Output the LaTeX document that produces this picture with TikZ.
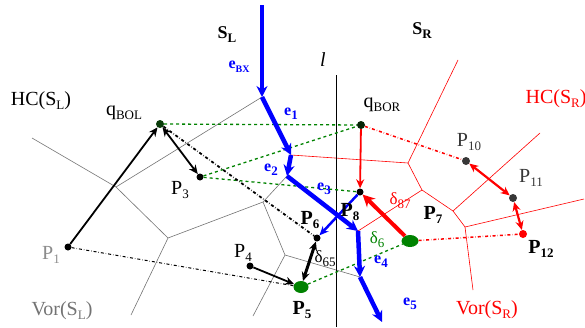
\documentclass[tikz,border=0pt]{standalone}
\usepackage{fontspec}
\setmainfont{Liberation Serif}
\usetikzlibrary{arrows.meta,shapes.geometric}
\definecolor{vgreen}{RGB}{0,130,0}
\definecolor{dgreen}{RGB}{10,60,10}
\definecolor{dgray}{RGB}{55,55,55}
\newcommand\lo[1]{\raisebox{-4pt}{\fontsize{13}{13}\selectfont #1}}

\begin{document}
\begin{tikzpicture}[x=1pt,y=-1pt,
  every node/.style={inner sep=0pt,font=\fontsize{20}{22}\selectfont},
  dot/.style={circle,fill=black,inner sep=0pt,minimum size=7pt},
  gdot/.style={ellipse,fill=vgreen,inner sep=0pt,minimum width=15pt,minimum height=12pt},
  vorL/.style={black!55,line width=0.6pt},
  vorR/.style={red,line width=0.6pt},
  chain/.style={blue,line width=4.5pt,-{Stealth[length=11pt,width=11pt]}},
  link/.style={vgreen,dashed,line width=1.3pt},
  rlink/.style={red,dash dot,line width=1.5pt},
  arr/.style={-{Stealth[length=9pt,width=8pt]},line width=1.8pt},
  darr/.style={{Stealth[length=9pt,width=8pt]}-{Stealth[length=9pt,width=8pt]},line width=1.8pt}]
  \useasboundingbox (0,0) rectangle (585,327);

  % merge chain
  \coordinate (c0) at (262,5);
  \coordinate (c1) at (262,97);
  \coordinate (c2) at (291,155);
  \coordinate (c3) at (287,176);
  \coordinate (c4) at (358,231);
  \coordinate (c5) at (360,277);
  \coordinate (c6) at (382,322);

  % Vor(S_L) vertices
  \coordinate (g1) at (32,138);
  \coordinate (g2) at (116,187);
  \coordinate (g3) at (168,238);
  \coordinate (g4) at (131,315);
  \coordinate (g5) at (263,202);
  \coordinate (g6) at (285,255);
  \coordinate (g7) at (253,316);

  % Vor(S_R) vertices
  \coordinate (r1) at (408,163);
  \coordinate (r2) at (422,190);
  \coordinate (r3) at (453,211);
  \coordinate (r4) at (465,227);
  \coordinate (r5) at (458,60);
  \coordinate (r6) at (540,133);
  \coordinate (r7) at (584,199);
  \coordinate (r8) at (473,290);

  \coordinate (ltop) at (336,75);
  \coordinate (lbot) at (336,327);

  % sites
  \node[dot,fill=dgreen,minimum size=8pt] (qL) at (160,124) {};
  \node[dot,fill=dgreen!60!black,minimum size=8pt] (qR) at (361,125) {};
  \node[dot] (P1) at (68,247) {};
  \node[dot] (P3) at (200,177) {};
  \node[dot] (P4) at (250,266) {};
  \node[gdot] (P5) at (301,287) {};
  \node[dot] (P6) at (317,238) {};
  \node[gdot,minimum width=17pt] (P7) at (410,241) {};
  \node[dot] (P8) at (360,192) {};
  \node[dot,fill=dgray,minimum size=8pt] (P10) at (466,161) {};
  \node[dot,fill=dgray,minimum size=8pt] (P11) at (513,198) {};
  \node[dot,fill=red,minimum size=8pt] (P12) at (523,234) {};

  % voronoi diagrams
  \draw[vorL] (g1) -- (g2) -- (c1);
  \draw[vorL] (g2) -- (g3) -- (g4);
  \draw[vorL] (g3) -- (g5) -- (c3);
  \draw[vorL] (g5) -- (g6) -- (g7);
  \draw[vorL] (g6) -- (c5);
  \draw[vorR] (c2) -- (r1) -- (r5);
  \draw[vorR] (r1) -- (r2) -- (c4);
  \draw[vorR] (r2) -- (r3) -- (r6);
  \draw[vorR] (r3) -- (r4) -- (r7);
  \draw[vorR] (r4) -- (r8);
  \draw[line width=0.7pt] (ltop) -- (lbot);

  % hull links
  \draw[link] (qL) -- (qR);
  \draw[link] (P3) -- (qR);
  \draw[link] (P3) -- (P8);
  \draw[link] (P5) -- (P7);
  \draw[rlink] (qR) -- (P10);
  \draw[rlink] (P7) -- (P12);
  \draw[dash dot,line width=1pt] (P1) -- (P5);
  \draw[dash dot,line width=1.8pt] (qL) -- (P6);

  % chain
  \draw[chain] (c0) -- (c1);
  \draw[chain] (c1) -- (c2);
  \draw[chain] (c2) -- (c3);
  \draw[chain] (c3) -- (c4);
  \draw[chain] (c4) -- (c5);
  \draw[chain] (c5) -- (c6);

  % arrows
  \draw[arr] (P1) -- (qL);
  \draw[darr] (qL) -- (P3);
  \draw[arr] (P4) -- (P5);
  \draw[darr,line width=3pt] (P5) -- (P6);
  \draw[arr,blue,line width=2.5pt] (P8) -- (P6);
  \draw[arr,red] (qR) -- (P8);
  \draw[red,line width=4pt,-{Stealth[length=12pt,width=12pt]}] (P7) -- (P8);
  \draw[darr,red,line width=2.2pt] (P10) -- (P11);
  \draw[darr,red,line width=2.2pt] (P11) -- (P12);

  % labels
  \node (SL) at (227,35) {\fontsize{18}{18}\selectfont\textbf{S}\lo{\textbf{L}}};
  \node (SR) at (422,31) {\fontsize{18}{18}\selectfont\textbf{S}\lo{\textbf{R}}};
  \node (lab-l) at (323,60) {\textit{l}};
  \node[blue] (eBX) at (239,67) {\fontsize{16}{16}\selectfont\textbf{e}\lo{\fontsize{10}{10}\selectfont\textbf{BX}}};
  \node[blue] (e1) at (291,114) {\fontsize{16}{16}\selectfont\textbf{e}\lo{\textbf{1}}};
  \node[blue] (e2) at (271,170) {\fontsize{16}{16}\selectfont\textbf{e}\lo{\textbf{2}}};
  \node[blue] (e3) at (324,189) {\fontsize{16}{16}\selectfont\textbf{e}\lo{\textbf{3}}};
  \node[blue] (e4) at (381,262) {\fontsize{16}{16}\selectfont\textbf{e}\lo{\textbf{4}}};
  \node[blue] (e5) at (410,304) {\fontsize{16}{16}\selectfont\textbf{e}\lo{\textbf{5}}};
  \node (HCL) at (41,101) {HC(S\lo{L})};
  \node[red] (HCR) at (556,99) {HC(S\lo{R})};
  \node (qLlab) at (124,113) {q\lo{BOL}};
  \node (qRlab) at (382,105) {q\lo{BOR}};
  \node[black!45] (P1lab) at (51,255) {P\lo{1}};
  \node (P3lab) at (180,190) {P\lo{3}};
  \node (P4lab) at (243,253) {P\lo{4}};
  \node (P5lab) at (302,310) {\textbf{P}\lo{\textbf{5}}};
  \node (P6lab) at (310,220) {\textbf{P}\lo{\textbf{6}}};
  \node (P7lab) at (433,215) {\textbf{P}\lo{\textbf{7}}};
  \node (P8lab) at (350,212) {\textbf{P}\lo{\textbf{8}}};
  \node[dgray] (P10lab) at (469,142) {P\lo{10}};
  \node[dgray] (P11lab) at (531,178) {P\lo{11}};
  \node (P12lab) at (541,249) {\textbf{P}\lo{\textbf{12}}};
  \node[black!55] (VorL) at (62,311) {Vor(S\lo{L})};
  \node[red] (VorR) at (487,310) {Vor(S\lo{R})};
  \node[red] (d87) at (400,201) {\fontsize{17}{17}\selectfont δ\lo{87}};
  \node[vgreen] (d6) at (377,240) {\fontsize{17}{17}\selectfont δ\lo{6}};
  \node (d65) at (325,259) {\fontsize{17}{17}\selectfont δ\lo{65}};
\end{tikzpicture}
\end{document}
